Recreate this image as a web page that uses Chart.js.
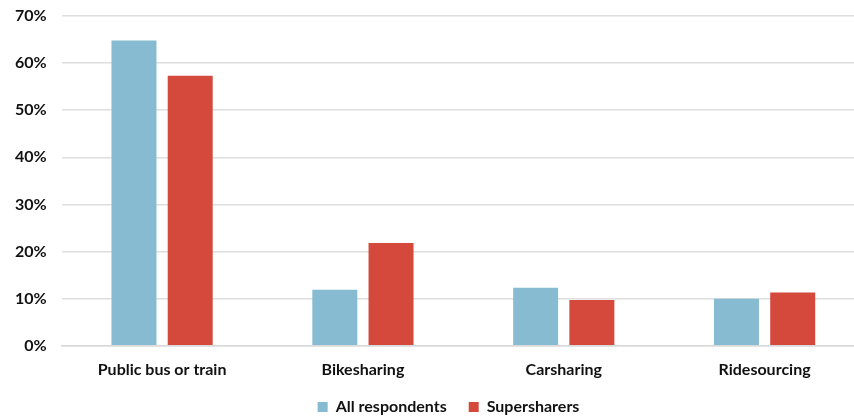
<!DOCTYPE html>
<html>
<head>
<meta charset="utf-8">
<script src="https://cdn.jsdelivr.net/npm/chart.js@4"></script>
<style>
html,body{margin:0;padding:0;background:#fff;overflow:hidden;width:854px;height:418px;}
#wrap{position:absolute;left:0;top:0;width:866px;height:418px;}
</style>
</head>
<body>
<div id="wrap"><canvas id="c" width="866" height="418"></canvas></div>
<script>
const categories = ["Public bus or train", "Bikesharing", "Carsharing", "Ridesourcing"];
const allRespondents = [64.8, 11.9, 12.3, 10.0];
const supersharers = [57.3, 21.8, 9.7, 11.3];
const seriesNames = ["All respondents", "Supersharers"];
const yTicks = [0, 10, 20, 30, 40, 50, 60, 70];

const FONT = "Lato, 'Open Sans', sans-serif";
const LEGEND_PAD = 22;
const LEGEND_TRIM = 16;

const legendTweak = {
  id: 'legendTweak',
  afterInit(chart) {
    const lg = chart.legend;
    if (lg && !lg._wrapped) {
      const orig = lg.fit;
      lg.fit = function () { orig.call(this); this.height -= LEGEND_TRIM; };
      lg._wrapped = true;
    }
  },
  afterLayout(chart) {
    const lg = chart.legend;
    if (lg) { lg.left += 16; lg.right += 16; lg.top -= LEGEND_TRIM; }
  }
};

new Chart(document.getElementById('c'), {
  type: 'bar',
  data: {
    labels: categories,
    datasets: [
      { label: seriesNames[0], data: allRespondents, backgroundColor: '#86bbd1', borderWidth: 0,
        categoryPercentage: 0.56, barPercentage: 0.8 },
      { label: seriesNames[1], data: supersharers, backgroundColor: '#d4493c', borderWidth: 0,
        categoryPercentage: 0.56, barPercentage: 0.8 }
    ]
  },
  options: {
    responsive: false,
    animation: false,
    devicePixelRatio: 1,
    layout: { padding: { top: 16, right: 1, left: 0, bottom: -7 } },
    plugins: {
      legend: {
        position: 'bottom',
        labels: {
          boxWidth: 10, boxHeight: 10, padding: LEGEND_PAD,
          color: '#111',
          font: { family: FONT, size: 16, weight: 'bold' }
        }
      },
      tooltip: { enabled: false }
    },
    scales: {
      x: {
        grid: { display: false, drawTicks: false },
        border: { display: true, color: '#d9d9d9', width: 1.5 },
        ticks: { color: '#111', padding: 14, font: { family: FONT, size: 16, weight: 'bold' } }
      },
      y: {
        min: 0, max: 70,
        afterBuildTicks(axis) { axis.ticks = yTicks.map(v => ({ value: v })); },
        afterFit(axis) { axis.paddingTop = 9; axis.paddingBottom = 9; },
        grid: { color: '#dedede', lineWidth: 1.5, drawTicks: false },
        border: { display: false },
        ticks: {
          color: '#111', padding: 15,
          font: { family: FONT, size: 16, weight: 'bold' },
          callback: v => v + '%'
        }
      }
    }
  },
  plugins: [legendTweak]
});
</script>
</body>
</html>
